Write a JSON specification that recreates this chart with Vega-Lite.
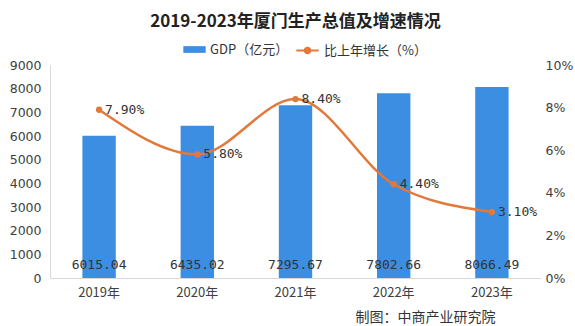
{
  "$schema": "https://vega.github.io/schema/vega-lite/v6.json",
  "width": 575,
  "height": 326,
  "autosize": {"type": "fit", "contains": "padding"},
  "padding": {"left": 9, "right": 2, "top": 13, "bottom": 2},
  "background": "white",
  "title": {
    "text": "2019-2023年厦门生产总值及增速情况",
    "fontSize": 17,
    "font": "Noto Sans CJK SC",
    "fontWeight": "bold",
    "color": "#222222",
    "offset": 28
  },
  "config": {
    "view": {"stroke": null},
    "font": "Noto Sans CJK SC",
    "axis": {"labelFont": "DejaVu Sans", "labelFontSize": 12.5, "labelColor": "#404040", "ticks": false, "grid": false},
    "legend": {"labelFont": "Noto Sans CJK SC", "labelFontSize": 13, "labelColor": "#333333", "orient": "none", "direction": "horizontal", "padding": 0}
  },
  "data": {
    "values": [
      {"year": "2019年", "gdp": 6015.04, "gdpLabel": "6015.04", "growth": 7.9, "growthLabel": "7.90%"},
      {"year": "2020年", "gdp": 6435.02, "gdpLabel": "6435.02", "growth": 5.8, "growthLabel": "5.80%"},
      {"year": "2021年", "gdp": 7295.67, "gdpLabel": "7295.67", "growth": 8.4, "growthLabel": "8.40%"},
      {"year": "2022年", "gdp": 7802.66, "gdpLabel": "7802.66", "growth": 4.4, "growthLabel": "4.40%"},
      {"year": "2023年", "gdp": 8066.49, "gdpLabel": "8066.49", "growth": 3.1, "growthLabel": "3.10%"}
    ]
  },
  "encoding": {
    "x": {
      "field": "year",
      "type": "nominal",
      "sort": null,
      "scale": {"paddingInner": 0.66, "paddingOuter": 0.33},
      "axis": {
        "labelAngle": 0,
        "labelFont": "Noto Sans CJK SC",
        "labelFontSize": 13,
        "labelPadding": 8,
        "domainColor": "#d9d9d9",
        "title": "制图：中商产业研究院",
        "titleFont": "Noto Sans CJK SC",
        "titleFontSize": 14,
        "titleFontWeight": "normal",
        "titleColor": "#333333",
        "titleAlign": "center",
        "titleBaseline": "middle",
        "titleX": 375,
        "titleY": 39
      }
    }
  },
  "layer": [
    {
      "layer": [
        {
          "mark": {"type": "bar"},
          "encoding": {
            "y": {
              "field": "gdp",
              "type": "quantitative",
              "scale": {"domain": [0, 9000]},
              "axis": {"title": null, "values": [0,1000,2000,3000,4000,5000,6000,7000,8000,9000], "format": "d", "labelOverlap": false, "domainColor": "#d9d9d9", "labelPadding": 9}
            },
            "fill": {
              "datum": "GDP（亿元）",
              "scale": {"range": ["#3c8ee2"]},
              "legend": {"title": null, "legendX": 133, "legendY": -27, "symbolType": "M-1,-0.3H1V0.3H-1Z", "symbolSize": 500, "symbolStrokeWidth": 0}
            }
          }
        },
        {
          "mark": {"type": "text", "baseline": "bottom", "dy": -6, "fontSize": 13, "font": "DejaVu Sans Mono", "color": "#333333"},
          "encoding": {
            "y": {"datum": 0, "type": "quantitative",
              "axis": {"title": null, "values": [0,1000,2000,3000,4000,5000,6000,7000,8000,9000], "format": "d", "labelOverlap": false, "domainColor": "#d9d9d9", "labelPadding": 9}},
            "text": {"field": "gdpLabel"}
          }
        }
      ]
    },
    {
      "layer": [
        {
          "mark": {"type": "line", "interpolate": "monotone", "strokeWidth": 2.5, "color": "#e2793a"},
          "encoding": {
            "y": {
              "field": "growth",
              "type": "quantitative",
              "scale": {"domain": [0, 10]},
              "axis": {"orient": "right", "title": null, "values": [0,2,4,6,8,10], "labelExpr": "datum.value + '%'", "domain": false, "labelPadding": 4}
            },
            "stroke": {
              "datum": "比上年增长（%）",
              "scale": {"range": ["#e2793a"]},
              "legend": {"title": null, "legendX": 245, "legendY": -27, "symbolType": "M-1,0H1M0.25,0A0.25,0.25 0 1 1 -0.25,0A0.25,0.25 0 1 1 0.25,0Z", "symbolSize": 500, "symbolStrokeWidth": 2, "symbolFillColor": "#e2793a"}
            }
          }
        },
        {
          "mark": {"type": "point", "filled": true, "size": 40, "color": "#e2793a", "opacity": 1},
          "encoding": {"y": {"field": "growth", "type": "quantitative"}}
        },
        {
          "mark": {"type": "text", "align": "left", "baseline": "middle", "dx": 6, "fontSize": 13, "font": "DejaVu Sans Mono", "color": "#333333"},
          "encoding": {
            "y": {"field": "growth", "type": "quantitative"},
            "text": {"field": "growthLabel"}
          }
        }
      ]
    }
  ],
  "resolve": {"scale": {"y": "independent", "fill": "independent", "stroke": "independent"}}
}
